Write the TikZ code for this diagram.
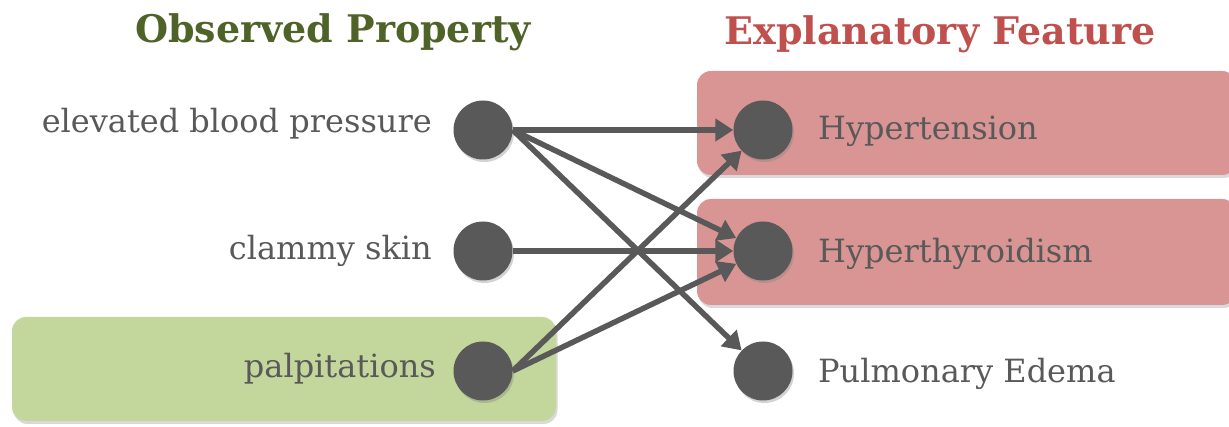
\documentclass[tikz,border=0pt]{standalone}
\usepackage{fontspec}
\setmainfont{DejaVu Serif}
\usetikzlibrary{arrows.meta,shadows}
\definecolor{ink}{HTML}{595959}
\definecolor{featfill}{HTML}{D99594}
\definecolor{obsfill}{HTML}{C3D69B}
\definecolor{obstitle}{HTML}{4F6228}
\definecolor{feattitle}{HTML}{C0504D}
\begin{document}
\begin{tikzpicture}[x=1pt,y=-1pt,
  dot/.style={circle,fill=ink,minimum size=59pt,inner sep=0pt,
    drop shadow={opacity=0.35,shadow xshift=1.5pt,shadow yshift=-2.5pt}},
  band/.style={rounded corners=14pt,draw=none,
    drop shadow={opacity=0.3,shadow xshift=1.5pt,shadow yshift=-3pt}},
  lbl/.style={text=ink,font=\fontsize{32}{36}\selectfont,inner sep=0pt},
  ttl/.style={font=\bfseries\fontsize{38}{44}\selectfont,inner sep=0pt},
  link/.style={draw=ink,line width=5.5pt,-{Triangle[length=18pt,width=22pt]}}]
\useasboundingbox (0,0) rectangle (1229,427);

% highlighted bands
\fill[band,featfill] (697,71) rectangle (1236,175);
\fill[band,featfill] (697,199) rectangle (1236,305);
\fill[band,obsfill] (12,317) rectangle (556,421);

% column titles
\node[ttl,text=obstitle,anchor=base] (tobs) at (333,43) {Observed Property};
\node[ttl,text=feattitle,anchor=base] (tfeat) at (940,45) {Explanatory Feature};

% observed properties
\node[dot] (o1) at (483,130) {};
\node[dot] (o2) at (483,251) {};
\node[dot] (o3) at (483,371) {};
\node[lbl,anchor=base east] (lo1) at (432,133) {elevated blood pressure};
\node[lbl,anchor=base east] (lo2) at (432,260) {clammy skin};
\node[lbl,anchor=base east] (lo3) at (436,378) {palpitations};

% explanatory features
\node[dot] (f1) at (763,130) {};
\node[dot] (f2) at (763,251) {};
\node[dot] (f3) at (763,371) {};
\node[lbl,anchor=base west] (lf1) at (818,140) {Hypertension};
\node[lbl,anchor=base west] (lf2) at (818,263) {Hyperthyroidism};
\node[lbl,anchor=base west] (lf3) at (818,383) {Pulmonary Edema};

% links
\draw[link] (o1.east) -- (f1);
\draw[link] (o1.east) -- (f2);
\draw[link] (o1.east) -- (f3);
\draw[link] (o2.east) -- (f2);
\draw[link] (o3.east) -- (f1);
\draw[link] (o3.east) -- (f2);
\end{tikzpicture}
\end{document}
